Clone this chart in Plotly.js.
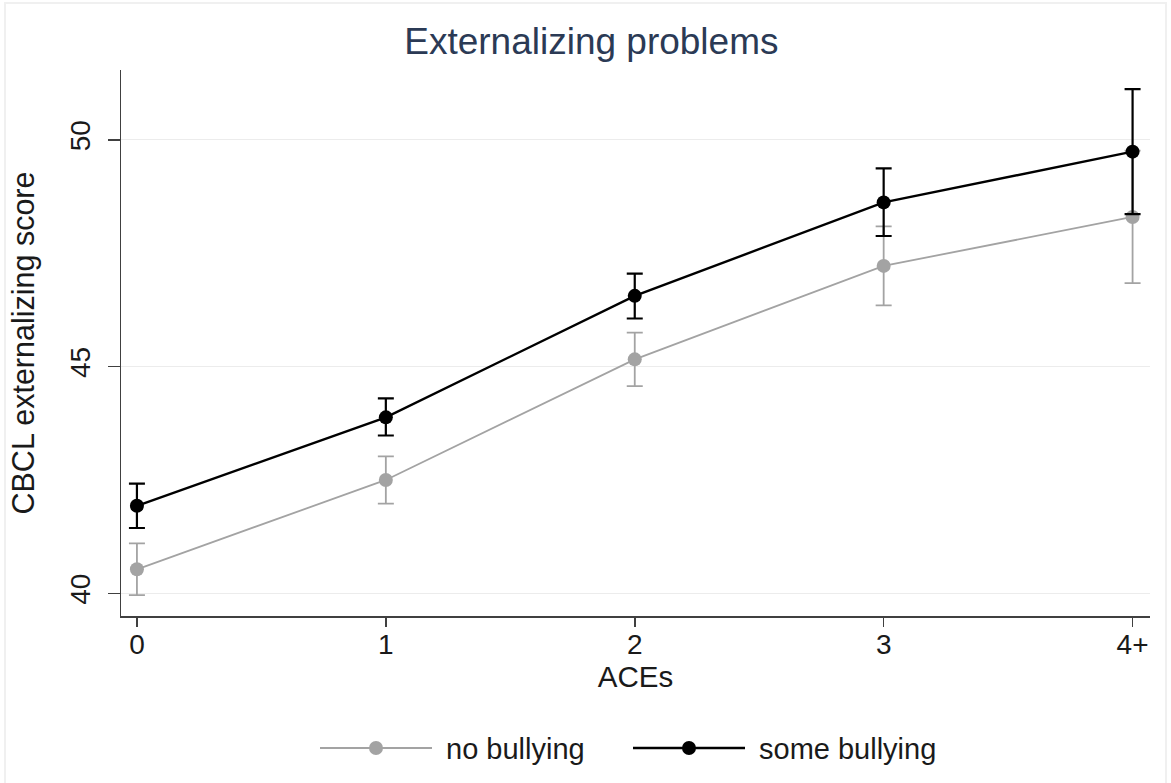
<!DOCTYPE html>
<html>
<head>
<meta charset="utf-8">
<script src="https://cdn.plot.ly/plotly-3.0.1.min.js"></script>
<style>
html,body{margin:0;padding:0;background:#fff;}
#chart{width:1171px;height:783px;}
</style>
</head>
<body>
<div id="chart"></div>
<script>
// Categories and values
const aces = ["0", "1", "2", "3", "4+"];
const noBullying = [40.53, 42.50, 45.16, 47.22, 48.30];
const noBullyingLow = [39.96, 41.98, 44.57, 46.35, 46.84];
const noBullyingHigh = [41.10, 43.02, 45.75, 48.09, 49.76];
const someBullying = [41.93, 43.88, 46.56, 48.62, 49.74];
const someBullyingLow = [41.44, 43.48, 46.06, 47.88, 48.36];
const someBullyingHigh = [42.42, 44.30, 47.05, 49.37, 51.12];
const yTicks = [40, 45, 50];

const FONT = "Liberation Sans, Arial, Helvetica, sans-serif";

function plus(v, hi) { return v.map((d, i) => hi[i] - d); }
function minus(v, lo) { return v.map((d, i) => d - lo[i]); }

const traces = [
  {
    type: "scatter", mode: "lines+markers", name: "no bullying",
    x: aces, y: noBullying,
    line: {color: "#a3a3a3", width: 1.8},
    marker: {color: "#a3a3a3", size: 14, symbol: "circle"},
    error_y: {type: "data", symmetric: false,
      array: plus(noBullying, noBullyingHigh),
      arrayminus: minus(noBullying, noBullyingLow),
      color: "#a3a3a3", thickness: 1.8, width: 8}
  },
  {
    type: "scatter", mode: "lines+markers", name: "some bullying",
    x: aces, y: someBullying,
    line: {color: "#000000", width: 2.4},
    marker: {color: "#000000", size: 14, symbol: "circle"},
    error_y: {type: "data", symmetric: false,
      array: plus(someBullying, someBullyingHigh),
      arrayminus: minus(someBullying, someBullyingLow),
      color: "#000000", thickness: 2.2, width: 8}
  }
];

const layout = {
  width: 1171, height: 783,
  paper_bgcolor: "#ffffff", plot_bgcolor: "#ffffff",
  margin: {l: 121, r: 21, t: 70, b: 167},
  font: {family: FONT, color: "#1a1a1a", size: 28},
  title: {text: "Externalizing problems", x: 0.505, xref: "container",
    y: 0.947, yref: "container", yanchor: "middle",
    font: {family: FONT, size: 37, color: "#2b3a55"}},
  showlegend: true,
  legend: {orientation: "h", x: 0.5, xref: "container", xanchor: "center",
    y: 0.045, yref: "container", yanchor: "middle",
    bgcolor: "rgba(0,0,0,0)",
    font: {family: FONT, size: 29, color: "#1a1a1a"},
    traceorder: "normal", itemwidth: 126},
  shapes: [
    {type: "rect", xref: "paper", yref: "paper",
      x0: -0.1127, x1: 1.0155, y0: -0.31, y1: 1.1227,
      line: {color: "#f0f0f0", width: 2}, fillcolor: "rgba(0,0,0,0)", layer: "below"}
  ],
  xaxis: {
    type: "category", range: [-0.064, 4.07],
    showline: true, linecolor: "#404040", linewidth: 1.5,
    ticks: "outside", ticklen: 9, tickwidth: 1.5, tickcolor: "#404040",
    showgrid: false, zeroline: false,
    ticklabelstandoff: -6,
    tickfont: {family: FONT, size: 28, color: "#1a1a1a"},
    title: {text: "ACEs", font: {family: FONT, size: 29.5, color: "#1a1a1a"}, standoff: 3}
  },
  yaxis: {
    range: [39.50, 51.54], tickvals: yTicks, ticktext: yTicks.map(String),
    showline: true, linecolor: "#404040", linewidth: 1.5,
    ticks: "outside", ticklen: 12, tickwidth: 1.5, tickcolor: "#404040",
    showgrid: true, gridcolor: "#ececec", gridwidth: 1.2, zeroline: false,
    tickangle: -90,
    ticklabelstandoff: 6,
    tickfont: {family: FONT, size: 28, color: "#1a1a1a"},
    title: {text: "CBCL externalizing score", font: {family: FONT, size: 30.5, color: "#1a1a1a"}, standoff: 21}
  }
};

Plotly.newPlot("chart", traces, layout, {displayModeBar: false, staticPlot: true}).then(function (gd) {
  // Stata-style legend keys: long lines with the marker in the middle
  const legend = gd.querySelector("g.legend");
  if (!legend) return;
  const sb = legend.querySelector(".scrollbox");
  if (sb) sb.removeAttribute("clip-path");
  legend.removeAttribute("clip-path");
  const items = legend.querySelectorAll("g.traces");
  const LINE = 112, GAP = 14, STEP = 313;
  items.forEach(function (it, i) {
    const p = it.querySelector(".legendlines path");
    if (p) p.setAttribute("d", "M5,0h" + LINE);
    it.querySelectorAll(".legendpoints path").forEach(function (pt) {
      pt.setAttribute("transform", "translate(" + (5 + LINE / 2) + ",0)");
    });
    const t = it.querySelector("text.legendtext");
    if (t) t.setAttribute("x", 5 + LINE + GAP);
    const m = /translate\(\s*([-\d.]+)[ ,]+([-\d.]+)\s*\)/.exec(it.getAttribute("transform") || "");
    const y = m ? parseFloat(m[2]) : 0;
    it.setAttribute("transform", "translate(" + (i * STEP) + "," + y + ")");
  });
  const first = items[0] && items[0].querySelector(".legendlines path");
  if (first) {
    const r = first.getBoundingClientRect();
    const dx = 320 - r.left, dy = 748 - (r.top + r.height / 2);
    const m = /translate\(\s*([-\d.]+)[ ,]+([-\d.]+)\s*\)/.exec(legend.getAttribute("transform") || "");
    const a = m ? parseFloat(m[1]) : 0, b = m ? parseFloat(m[2]) : 0;
    legend.setAttribute("transform", "translate(" + (a + dx) + "," + (b + dy) + ")");
  }
});
</script>
</body>
</html>
